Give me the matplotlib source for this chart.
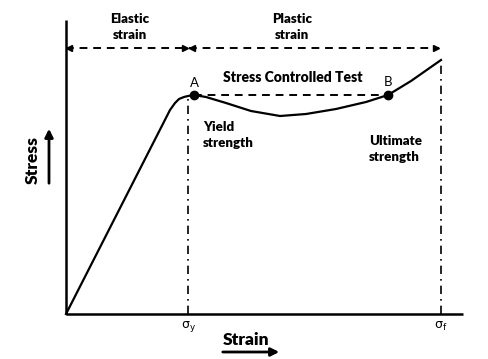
import matplotlib.pyplot as plt

# stress-strain curve (arbitrary units)
strain = [0, 104, 109, 113, 118, 122, 128, 140, 160, 185, 214, 240, 270, 300, 322, 345, 375]
stress = [0, 204, 211, 215, 217, 218, 219, 217, 211, 203, 198, 200, 205, 212, 219, 233, 254]

yield_pt = (128, 219)      # A
ultimate_pt = (322, 219)   # B
strain_y = 122             # sigma_y
strain_f = 375             # sigma_f
arrow_level = 266

FONT = 'Lato'


def main() -> None:
    fig = plt.figure(figsize=(4.89, 3.59), dpi=100)
    ax = fig.add_axes([0, 0, 1, 1])
    ax.set_xlim(-66, 423)
    ax.set_ylim(-45, 314)
    ax.axis('off')

    # axes
    ax.plot([0, 0], [0, 294], color='black', lw=1.8, solid_capstyle='butt')
    ax.plot([0, 397], [0, 0], color='black', lw=1.8, solid_capstyle='butt')

    # curve
    ax.plot(strain, stress, color='black', lw=1.6, solid_joinstyle='round')

    # A-B stress controlled line
    ax.plot([yield_pt[0], ultimate_pt[0]], [yield_pt[1], ultimate_pt[1]],
            color='black', lw=1.4, ls=(0, (4, 3)))
    ax.plot([yield_pt[0], ultimate_pt[0]], [yield_pt[1], ultimate_pt[1]],
            'o', color='black', ms=6)

    # vertical dash-dot lines
    ax.plot([strain_y, strain_y], [0, 216], color='black', lw=1.2,
            ls=(0, (5, 3, 1, 3)))
    ax.plot([strain_f, strain_f], [0, 252], color='black', lw=1.2,
            ls=(0, (5, 3, 1, 3)))

    # elastic / plastic dashed arrows
    for x0, x1 in [(0, strain_y), (strain_y + 1, strain_f - 2)]:
        ax.plot([x0, x1], [arrow_level, arrow_level], color='black', lw=1.4,
                ls=(0, (4, 3)))
        ax.plot([x0 + 3], [arrow_level], marker='<', color='black', ms=5)
        ax.plot([x1 - 3], [arrow_level], marker='>', color='black', ms=5)

    bold = dict(family=FONT, weight='heavy', color='black')
    ax.text(64, 287, 'Elastic\nstrain', ha='center', va='center',
            fontsize=9.5, linespacing=1.35, **bold)
    ax.text(226, 287, 'Plastic\nstrain', ha='center', va='center',
            fontsize=9.5, linespacing=1.35, **bold)
    ax.text(227, 236, 'Stress Controlled Test', ha='center', va='center',
            fontsize=10, **bold)
    ax.text(137, 179, 'Yield\nstrength', ha='left', va='center',
            fontsize=9.5, linespacing=1.45, **bold)
    ax.text(303, 165, 'Ultimate\nstrength', ha='left', va='center',
            fontsize=9.5, linespacing=1.45, **bold)

    ax.text(yield_pt[0], 231, 'A', ha='center', va='center', family=FONT,
            fontsize=9.5)
    ax.text(ultimate_pt[0], 232, 'B', ha='center', va='center', family=FONT,
            fontsize=9.5)

    ax.text(strain_y, -12, r'$\mathregular{\sigma_y}$', ha='center',
            va='center', fontsize=9)
    ax.text(strain_f, -12, r'$\mathregular{\sigma_f}$', ha='center',
            va='center', fontsize=9)

    # axis titles with arrows
    ax.text(-33, 154, 'Stress', rotation=90, ha='center', va='center',
            fontsize=12.5, **bold)
    ax.annotate('', xy=(-17, 188), xytext=(-17, 128),
                arrowprops=dict(arrowstyle='-|>', color='black', lw=2,
                                mutation_scale=12))
    ax.text(180, -26, 'Strain', ha='center', va='center', fontsize=12.5,
            **bold)
    ax.annotate('', xy=(216, -38), xytext=(154, -38),
                arrowprops=dict(arrowstyle='-|>', color='black', lw=2,
                                mutation_scale=12))

    fig.savefig('out.png', dpi=100)


if __name__ == '__main__':
    main()
